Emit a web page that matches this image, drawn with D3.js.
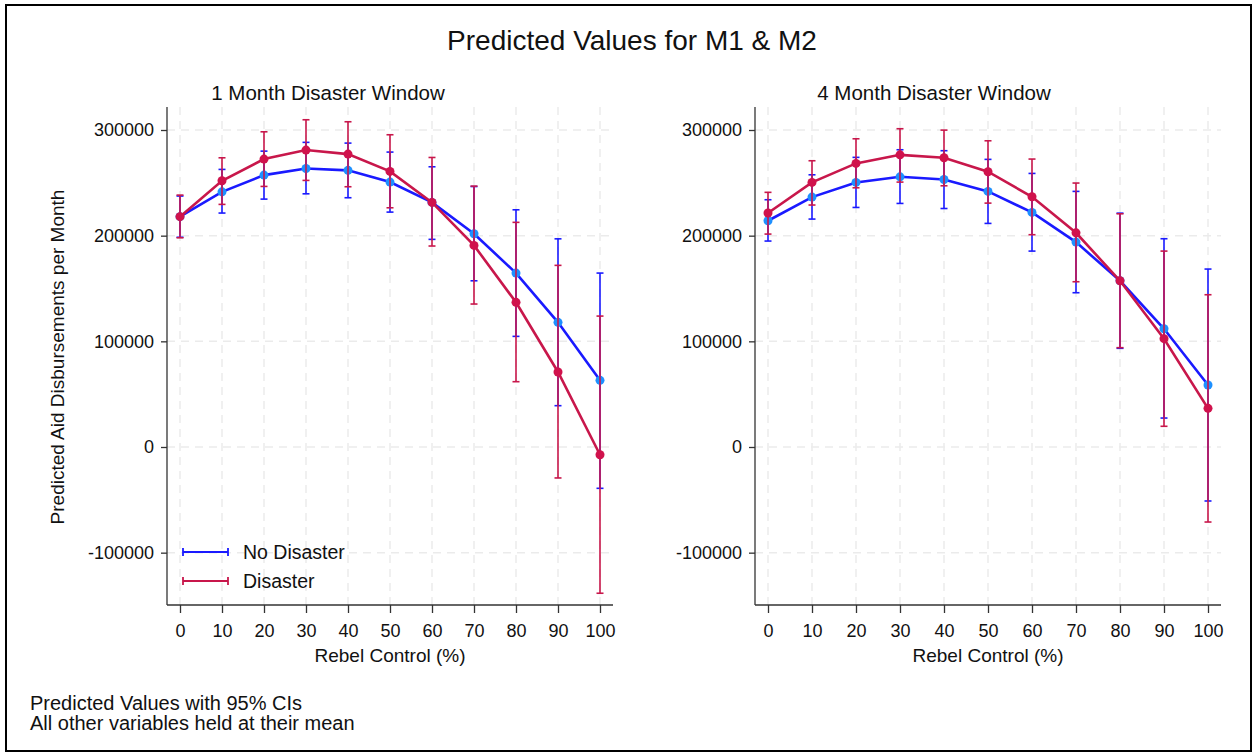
<!DOCTYPE html>
<html>
<head>
<meta charset="utf-8">
<script src="https://cdn.jsdelivr.net/npm/d3@7"></script>
<style>
  body { margin: 0; background: #fff; }
  text { font-family: "Liberation Sans", Arial, sans-serif; fill: #111; }
</style>
</head>
<body>
<div class="chart"></div>
<script>
var svgWidth = 1257;
var svgHeight = 754;

// rebel control (%) categories
var rebelControl = [0, 10, 20, 30, 40, 50, 60, 70, 80, 90, 100];
var yTicks = [-100000, 0, 100000, 200000, 300000];

// 1 month window
var m1NoDis = [218000, 241500, 257300, 263600, 261800, 250700, 231500, 201800, 164600, 118000, 63100];
var m1NoDisLo = [198500, 221400, 234600, 239600, 235900, 222300, 196500, 157300, 104700, 39100, -39100];
var m1NoDisHi = [237500, 262700, 280000, 288300, 287600, 279100, 265200, 246500, 224500, 197000, 164600];
var m1Dis = [218000, 252000, 272500, 281000, 277200, 260800, 231500, 190800, 136900, 71000, -7300];
var m1DisLo = [198000, 229600, 246600, 252300, 246300, 226400, 190200, 135300, 61800, -29300, -138400];
var m1DisHi = [238400, 273700, 298300, 309700, 307800, 295500, 274000, 246900, 212600, 171900, 123900];

// 4 month window
var m2NoDis = [214100, 236500, 250400, 255700, 253200, 241900, 222000, 193900, 157300, 111900, 58700];
var m2NoDisLo = [194900, 215700, 226700, 230500, 225700, 211600, 185400, 146000, 93400, 27400, -51100];
var m2NoDisHi = [234000, 257600, 274100, 281300, 280400, 272200, 258900, 241900, 221300, 197100, 168400];
var m2Dis = [221400, 250400, 268400, 276500, 273700, 260500, 236800, 202700, 157300, 102500, 36600];
var m2DisLo = [201500, 229000, 245300, 250700, 247200, 230800, 200900, 156400, 94000, 19600, -71000];
var m2DisHi = [241000, 270900, 291700, 301200, 299900, 289800, 272500, 249800, 220700, 185400, 144100];

var blueLine = "#1a1aff", blueDot = "#1e90ff";
var redLine = "#c8174b", redDot = "#d0124c";

var svg = d3.select(".chart")
  .append("svg")
  .attr("width", svgWidth)
  .attr("height", svgHeight);

svg.append("rect")
  .attr("x", 6).attr("y", 5)
  .attr("width", 1245).attr("height", 746)
  .attr("fill", "none")
  .attr("stroke", "#000")
  .attr("stroke-width", 2);

svg.append("text")
  .attr("x", 632).attr("y", 50)
  .attr("text-anchor", "middle")
  .attr("font-size", "28px")
  .text("Predicted Values for M1 & M2");

function drawPanel(opt) {
  var x = d3.scaleLinear().domain([0, 100]).range([opt.x0, opt.x100]);
  var y = d3.scaleLinear().domain([0, 300000]).range([447, 130]);
  var left = opt.axisX, right = opt.right, top = 107, bottom = 605;

  var g = svg.append("g");

  // grid
  g.selectAll(".hgrid").data(yTicks).enter().append("line")
    .attr("x1", left).attr("x2", right)
    .attr("y1", d => y(d)).attr("y2", d => y(d))
    .attr("stroke", "#ebebeb").attr("stroke-width", 1.5)
    .attr("stroke-dasharray", "8,6");
  g.selectAll(".vgrid").data(rebelControl).enter().append("line")
    .attr("x1", d => x(d)).attr("x2", d => x(d))
    .attr("y1", top).attr("y2", bottom)
    .attr("stroke", "#ebebeb").attr("stroke-width", 1.5)
    .attr("stroke-dasharray", "8,6");

  // axes
  var leftAxis = d3.axisLeft(y).tickValues(yTicks).tickSize(6).tickPadding(7).tickFormat(d => String(d));
  var bottomAxis = d3.axisBottom(x).tickValues(rebelControl).tickSize(8).tickPadding(11);

  var ya = g.append("g").attr("transform", `translate(${left},0)`).call(leftAxis);
  ya.select(".domain").attr("d", `M0,${top}V${bottom}`);
  var xa = g.append("g").attr("transform", `translate(0,${bottom})`).call(bottomAxis);
  xa.select(".domain").attr("d", `M${left},0H${right}`);
  [ya, xa].forEach(function(a) {
    a.selectAll("path,line").attr("stroke", "#333").attr("stroke-width", 1.3);
    a.selectAll("text").attr("font-size", "18px").attr("fill", "#111")
      .attr("font-family", "Liberation Sans, Arial, sans-serif");
  });

  g.append("text")
    .attr("x", opt.titleX).attr("y", 100)
    .attr("text-anchor", "middle")
    .attr("font-size", "20.5px")
    .text(opt.title);

  g.append("text")
    .attr("x", (opt.x0 + opt.x100) / 2).attr("y", 662)
    .attr("text-anchor", "middle")
    .attr("font-size", "19px")
    .text("Rebel Control (%)");

  function series(vals, lo, hi, lc, dc) {
    var pts = rebelControl.map((r, i) => ({ r: r, v: vals[i], lo: lo[i], hi: hi[i] }));
    var s = g.append("g");
    s.selectAll(".ci").data(pts).enter().append("line")
      .attr("x1", d => x(d.r)).attr("x2", d => x(d.r))
      .attr("y1", d => y(d.lo)).attr("y2", d => y(d.hi))
      .attr("stroke", lc).attr("stroke-width", 1.6);
    ["lo", "hi"].forEach(function(k) {
      s.selectAll(".cap" + k).data(pts).enter().append("line")
        .attr("x1", d => x(d.r) - 3.5).attr("x2", d => x(d.r) + 3.5)
        .attr("y1", d => y(d[k])).attr("y2", d => y(d[k]))
        .attr("stroke", lc).attr("stroke-width", 1.6);
    });
    s.append("path").datum(pts)
      .attr("d", d3.line().x(d => x(d.r)).y(d => y(d.v)))
      .attr("fill", "none").attr("stroke", lc).attr("stroke-width", 2.6);
    s.selectAll("circle").data(pts).enter().append("circle")
      .attr("cx", d => x(d.r)).attr("cy", d => y(d.v))
      .attr("r", 4.5).attr("fill", dc);
  }

  series(opt.nd, opt.ndLo, opt.ndHi, blueLine, blueDot);
  series(opt.d, opt.dLo, opt.dHi, redLine, redDot);
  return g;
}

drawPanel({
  x0: 180, x100: 600, axisX: 167, right: 613, titleX: 328,
  title: "1 Month Disaster Window",
  nd: m1NoDis, ndLo: m1NoDisLo, ndHi: m1NoDisHi,
  d: m1Dis, dLo: m1DisLo, dHi: m1DisHi
});

drawPanel({
  x0: 768, x100: 1208, axisX: 755, right: 1221, titleX: 934,
  title: "4 Month Disaster Window",
  nd: m2NoDis, ndLo: m2NoDisLo, ndHi: m2NoDisHi,
  d: m2Dis, dLo: m2DisLo, dHi: m2DisHi
});

svg.append("text")
  .attr("transform", "translate(64, 357) rotate(-90)")
  .attr("text-anchor", "middle")
  .attr("font-size", "19px")
  .text("Predicted Aid Disbursements per Month");

// legend
var legendItems = [
  { name: "No Disaster", color: blueLine, y: 552 },
  { name: "Disaster", color: redLine, y: 581 }
];
var lg = svg.append("g");
legendItems.forEach(function(l) {
  lg.append("line").attr("x1", 183).attr("x2", 228).attr("y1", l.y).attr("y2", l.y)
    .attr("stroke", l.color).attr("stroke-width", 1.8);
  [183, 228].forEach(function(cx) {
    lg.append("line").attr("x1", cx).attr("x2", cx).attr("y1", l.y - 4).attr("y2", l.y + 4)
      .attr("stroke", l.color).attr("stroke-width", 1.8);
  });
  lg.append("text").attr("x", 243).attr("y", l.y + 6.5)
    .attr("font-size", "19.5px").text(l.name);
});

svg.append("text").attr("x", 30).attr("y", 710).attr("font-size", "20px")
  .text("Predicted Values with 95% CIs");
svg.append("text").attr("x", 30).attr("y", 730).attr("font-size", "20px")
  .text("All other variables held at their mean");
</script>
</body>
</html>
